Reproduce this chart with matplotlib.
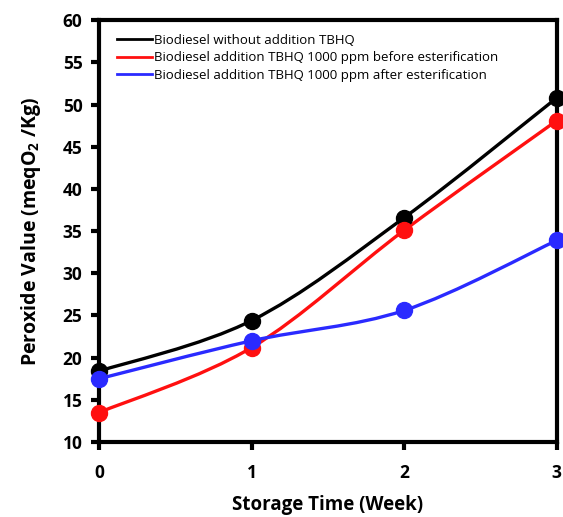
import numpy as np
import matplotlib.pyplot as plt
from matplotlib.path import Path
from matplotlib.patches import PathPatch
from matplotlib.lines import Line2D

weeks = [0, 1, 2, 3]
no_tbhq = [18.4, 24.4, 36.6, 50.8]
tbhq_before = [13.5, 21.2, 35.1, 48.1]
tbhq_after = [17.5, 22.0, 25.6, 33.9]

labels = ['Biodiesel without addition TBHQ',
          'Biodiesel addition TBHQ 1000 ppm before esterification',
          'Biodiesel addition TBHQ 1000 ppm after esterification']
colors = ['black', '#ff1010', '#2a2aff']

plt.rcParams['font.family'] = ['Open Sans', 'DejaVu Sans']


def smooth_path(x, y):
    # Excel-like smoothed line: cubic bezier segments through the points
    p = np.column_stack([x, y]).astype(float)
    ext = np.vstack([p[0], p, p[-1]])
    verts = [p[0]]
    codes = [Path.MOVETO]
    for i in range(len(p) - 1):
        c1 = ext[i + 1] + (ext[i + 2] - ext[i]) / 6
        c2 = ext[i + 2] - (ext[i + 3] - ext[i + 1]) / 6
        verts += [c1, c2, ext[i + 2]]
        codes += [Path.CURVE4] * 3
    return Path(verts, codes)


fig = plt.figure(figsize=(5.63, 5.17), dpi=100)
ax = fig.add_axes([0.176, 0.145, 0.813, 0.816])

handles = []
for vals, c, lab in zip([no_tbhq, tbhq_before, tbhq_after], colors, labels):
    ax.add_patch(PathPatch(smooth_path(weeks, vals), fill=False, edgecolor=c,
                           lw=2.4, clip_on=False, zorder=3))
    ax.plot(weeks, vals, 'o', color=c, ms=11.5, clip_on=False, zorder=4)
    handles.append(Line2D([], [], color=c, lw=2))

ax.set_xlim(0, 3)
ax.set_ylim(10, 60)
ax.set_xticks(weeks)
ax.set_yticks(range(10, 61, 5))
for s in ax.spines.values():
    s.set_linewidth(3)
ax.tick_params(direction='out', length=6, width=3, labelsize=12.5, pad=6)
for t in ax.get_xticklabels() + ax.get_yticklabels():
    t.set_fontweight('bold')
ax.tick_params(axis='x', pad=10)

ax.set_xlabel('Storage Time (Week)', fontsize=13.5, fontweight='bold', labelpad=9)
ax.set_ylabel('Peroxide Value (meqO$_\\mathregular{2}$ /Kg)', fontsize=14,
              fontweight='bold', labelpad=14)

ax.legend(handles, labels, loc='upper left', frameon=False, fontsize=9.5,
          handlelength=2.6, handletextpad=0.2, labelspacing=0.35,
          bbox_to_anchor=(0.02, 0.99), borderaxespad=0.3)

fig.savefig('out.png', dpi=100)
